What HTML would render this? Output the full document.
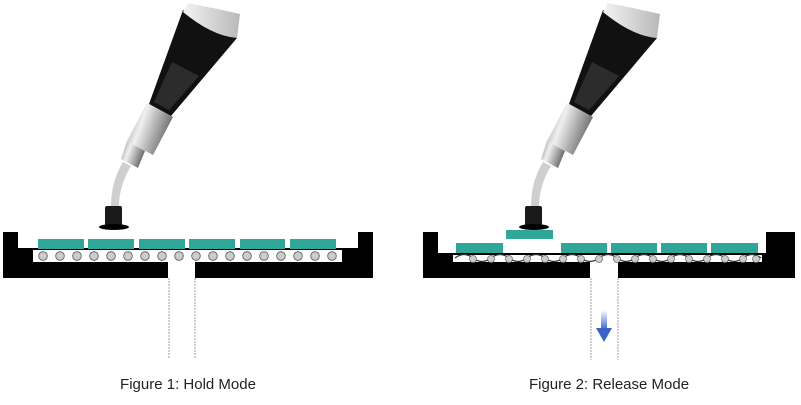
<!DOCTYPE html>
<html><head><style>html,body{margin:0;padding:0;background:#fff}</style></head>
<body>
<svg width="801" height="400" viewBox="0 0 801 400" xmlns="http://www.w3.org/2000/svg">
<defs>
<linearGradient id="sil" x1="0" y1="0" x2="1" y2="0.4">
<stop offset="0" stop-color="#8a8a8a"/><stop offset="0.4" stop-color="#f0f0f0"/><stop offset="1" stop-color="#6a6a6a"/></linearGradient>
<linearGradient id="cap" x1="0" y1="0" x2="1" y2="0"><stop offset="0" stop-color="#f4f4f4"/><stop offset="1" stop-color="#b8b8b8"/></linearGradient>
<linearGradient id="arr" x1="0" y1="0" x2="0" y2="1"><stop offset="0" stop-color="#fff"/><stop offset="1" stop-color="#3a62c8"/></linearGradient>
<g id="tool">
<polygon points="183,10 237,38 171,116 149,104" fill="#111"/>
<polygon points="172,62 199,76 169,110 154,102" fill="#2c2c2c"/>
<path d="M188,3 Q214,8 240,14 L237,38 Q212,36 183,12 Z" fill="url(#cap)"/>
<polygon points="147,103 173,117 153,155 127,141" fill="url(#sil)"/>
<polygon points="127,141 145,151 138,168 121,159" fill="url(#sil)"/>
<path d="M123,162 Q111,182 111,206 L119,206 Q119,186 131,166 Z" fill="#cfcfcf"/>
<rect x="105" y="206" width="17" height="20" rx="2" fill="#1a1a1a"/>
<ellipse cx="114" cy="227" rx="15" ry="3" fill="#000"/>
</g>
</defs>

<!-- Figure 1 -->
<use href="#tool"/>
<path d="M3,232 H18 V248 H358 V232 H373 V278 H195 V262 H168 V278 H3 Z" fill="#000"/>
<rect x="33" y="250" width="309" height="12" fill="#fff"/>
<rect x="168" y="262" width="27" height="16" fill="#fff"/>
<g fill="#2fa697">
<rect x="38" y="239" width="46" height="10"/><rect x="88" y="239" width="46" height="10"/>
<rect x="139" y="239" width="46" height="10"/><rect x="189" y="239" width="46" height="10"/>
<rect x="240" y="239" width="45" height="10"/><rect x="290" y="239" width="46" height="10"/>
</g>
<g fill="#ccc" stroke="#555" stroke-width="0.8">
<circle cx="43" cy="256" r="4.3"/><circle cx="60" cy="256" r="4.3"/><circle cx="77" cy="256" r="4.3"/>
<circle cx="94" cy="256" r="4.3"/><circle cx="111" cy="256" r="4.3"/><circle cx="128" cy="256" r="4.3"/>
<circle cx="145" cy="256" r="4.3"/><circle cx="162" cy="256" r="4.3"/><circle cx="179" cy="256" r="4.3"/>
<circle cx="196" cy="256" r="4.3"/><circle cx="213" cy="256" r="4.3"/><circle cx="230" cy="256" r="4.3"/>
<circle cx="247" cy="256" r="4.3"/><circle cx="264" cy="256" r="4.3"/><circle cx="281" cy="256" r="4.3"/>
<circle cx="298" cy="256" r="4.3"/><circle cx="315" cy="256" r="4.3"/><circle cx="332" cy="256" r="4.3"/>
</g>
<g stroke="#888" stroke-width="0.8" stroke-dasharray="2,1">
<line x1="169" y1="278" x2="169" y2="358"/><line x1="195" y1="278" x2="195" y2="358"/></g>
<text x="188" y="389" font-family="Liberation Sans, sans-serif" font-size="15" text-anchor="middle" fill="#222">Figure 1: Hold Mode</text>

<!-- Figure 2 -->
<use href="#tool" transform="translate(420,0)"/>
<path d="M423,232 H438 V253 H766 V232 H795 V278 H618 V262 H590 V278 H423 Z" fill="#000"/>
<rect x="453" y="255" width="309" height="7" fill="#fff"/>
<rect x="590" y="262" width="28" height="16" fill="#fff"/>
<g fill="#2fa697">
<rect x="506" y="230" width="47" height="9"/>
<rect x="456" y="243" width="47" height="10"/><rect x="561" y="243" width="46" height="10"/>
<rect x="611" y="243" width="46" height="10"/><rect x="661" y="243" width="46" height="10"/>
<rect x="711" y="243" width="47" height="10"/>
</g>
<path d="M455,258 q9,-7 18,0 t18,0 t18,0 t18,0 t18,0 t18,0 t18,0 t18,0 t18,0 t18,0 t18,0 t18,0 t18,0 t18,0 t18,0 t18,0 t18,0" fill="none" stroke="#333" stroke-width="1.2"/>
<g fill="#ccc" stroke="#666" stroke-width="0.7">
<circle cx="473" cy="259" r="3.5"/><circle cx="491" cy="259" r="3.5"/><circle cx="509" cy="259" r="3.5"/>
<circle cx="527" cy="259" r="3.5"/><circle cx="545" cy="259" r="3.5"/><circle cx="563" cy="259" r="3.5"/>
<circle cx="581" cy="259" r="3.5"/><circle cx="599" cy="259" r="3.5"/><circle cx="617" cy="259" r="3.5"/>
<circle cx="635" cy="259" r="3.5"/><circle cx="653" cy="259" r="3.5"/><circle cx="671" cy="259" r="3.5"/>
<circle cx="689" cy="259" r="3.5"/><circle cx="707" cy="259" r="3.5"/><circle cx="725" cy="259" r="3.5"/>
<circle cx="743" cy="259" r="3.5"/><circle cx="756" cy="259" r="3.5"/>
</g>
<g stroke="#888" stroke-width="0.8" stroke-dasharray="2,1">
<line x1="591" y1="278" x2="591" y2="360"/><line x1="618" y1="278" x2="618" y2="360"/></g>
<rect x="601" y="310" width="6" height="20" fill="url(#arr)"/>
<polygon points="596,328 612,328 604,342" fill="#3a62c8"/>
<text x="609" y="389" font-family="Liberation Sans, sans-serif" font-size="15" text-anchor="middle" fill="#222">Figure 2: Release Mode</text>
</svg>
</body></html>
